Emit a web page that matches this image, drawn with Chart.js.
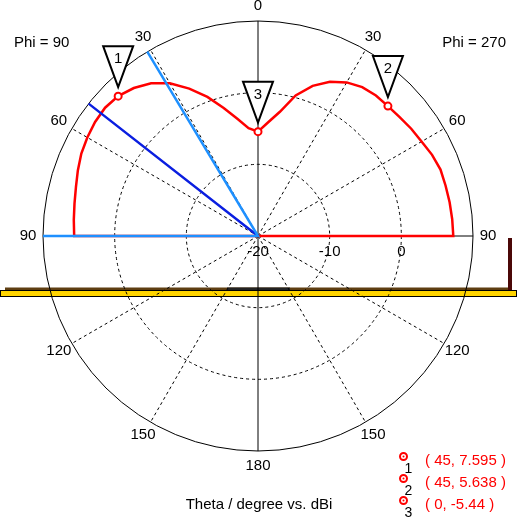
<!DOCTYPE html>
<html><head><meta charset="utf-8">
<script src="https://cdn.jsdelivr.net/npm/chart.js@4/dist/chart.umd.min.js"></script>
<style>html,body{margin:0;padding:0;background:#fff;}canvas{display:block;}</style>
</head><body>
<canvas id="c" width="518" height="518"></canvas>
<script>
// ---- data ----
const thetaDeg   = [0, 5, 10, 15, 20, 25, 30, 35, 40, 45, 50, 55, 60, 65, 70, 75, 80, 85, 90];
const gainPhi90  = [-5.44, -4.9, -3.4, -1.5, 0.65, 2.7, 4.6, 6.0, 6.95, 7.595, 7.85, 7.75, 7.5, 7.2, 6.75, 6.3, 6.0, 5.8, 5.65];
const gainPhi270 = [-5.44, -4.1, -2.4, 0.3, 2.3, 3.75, 4.75, 5.35, 5.6, 5.638, 5.8, 6.1, 6.35, 6.8, 7.1, 7.1, 7.15, 7.2, 7.25];
const markerNames = ['1', '2', '3'];
const markerPhi   = [90, 270, 90];
const markerTheta = [45, 45, 0];
const markerGain  = [7.595, 5.638, -5.44];
const angleTickLabels = ['0','30','60','90','120','150','180','150','120','90','60','30'];
const radialTicks = [-20, -10, 0, 10];
const radialTickLabels = ['-20', '-10', '0'];
const lightBlueTheta = [31, 90];   // Phi = 90 side
const darkBlueTheta  = [52];       // Phi = 90 side
const phiLabels = ['Phi = 90', 'Phi = 270'];
const axisTitle = 'Theta / degree vs. dBi';

// ---- build ----
const N = 360;
const rMin = radialTicks[0], rMax = radialTicks[radialTicks.length - 1];
const posIndex = (phi, theta) => phi === 270 ? theta : (360 - theta) % 360;
const labels = Array.from({length: N}, (_, i) => String(i));
const empty = () => new Array(N).fill(null);

const redData = empty();
thetaDeg.forEach((t, i) => {
  redData[posIndex(270, t)] = gainPhi270[i];
  redData[posIndex(90, t)] = gainPhi90[i];
});
redData[posIndex(270, 90) + 1] = rMin;
redData[posIndex(90, 90) - 1] = rMin;

const lightData = empty();
lightBlueTheta.forEach(t => { const p = posIndex(90, t); lightData[p] = rMax; lightData[(p + 1) % N] = rMin; });
const darkData = empty();
darkBlueTheta.forEach(t => { const p = posIndex(90, t); darkData[p] = rMax; darkData[(p + 1) % N] = rMin; });
const markerData = empty();
markerGain.forEach((g, i) => { markerData[posIndex(markerPhi[i], markerTheta[i])] = g; });

const FONT = '15px "Liberation Sans", Arial, sans-serif';

const decor = {
  id: 'decor',
  beforeDraw(chart) {
    const ctx = chart.ctx;
    ctx.save();
    // ground plane
    ctx.fillStyle = '#5e3e12';
    ctx.fillRect(5, 287.5, 503, 3);
    ctx.fillStyle = '#222';
    ctx.fillRect(227, 287.5, 63, 3);
    ctx.fillStyle = '#ffd400';
    ctx.fillRect(0.5, 290.5, 516, 6);
    ctx.strokeStyle = '#000';
    ctx.lineWidth = 1;
    ctx.strokeRect(0.5, 290.5, 516, 6);
    ctx.fillStyle = '#4b0808';
    ctx.fillRect(508, 238, 4, 52);
    ctx.restore();
  },
  afterDatasetsDraw(chart) {
    const ctx = chart.ctx;
    const s = chart.scales.r;
    ctx.save();
    ctx.font = FONT;
    ctx.fillStyle = '#000';
    ctx.textAlign = 'center';
    ctx.textBaseline = 'middle';
    // angle labels
    angleTickLabels.forEach((t, k) => {
      const p = s.getPointPosition(k * 30, s.drawingArea + 15);
      ctx.fillText(t, p.x, p.y);
    });
    // radial tick labels
    radialTickLabels.forEach((t, k) => {
      const d = s.getDistanceFromCenterForValue(radialTicks[k]);
      ctx.fillText(t, s.xCenter + d, s.yCenter + 16);
    });
    // phi labels
    ctx.textAlign = 'left';
    ctx.fillText(phiLabels[0], 14, 43);
    ctx.textAlign = 'right';
    ctx.fillText(phiLabels[1], 506, 43);
    // title
    ctx.textAlign = 'center';
    ctx.fillText(axisTitle, 259, 505);
    // marker triangles
    const meta = chart.getDatasetMeta(0);
    markerGain.forEach((g, i) => {
      const el = meta.data[posIndex(markerPhi[i], markerTheta[i])];
      const x = el.x, y = el.y;
      ctx.beginPath();
      ctx.moveTo(x - 15, y - 50);
      ctx.lineTo(x + 15, y - 50);
      ctx.lineTo(x, y - 9);
      ctx.closePath();
      ctx.fillStyle = '#fff';
      ctx.fill();
      ctx.strokeStyle = '#000';
      ctx.lineWidth = 2;
      ctx.stroke();
      ctx.fillStyle = '#000';
      ctx.fillText(markerNames[i], x, y - 37);
    });
    // legend
    markerGain.forEach((g, i) => {
      const ly = 458 + i * 22;
      ctx.beginPath();
      ctx.arc(403.5, ly - 1.5, 3.5, 0, Math.PI * 2);
      ctx.strokeStyle = '#ff0000';
      ctx.lineWidth = 2;
      ctx.stroke();
      ctx.beginPath();
      ctx.arc(403.5, ly - 1.5, 1, 0, Math.PI * 2);
      ctx.fillStyle = '#ff0000';
      ctx.fill();
      ctx.font = '14px "Liberation Sans", Arial, sans-serif';
      ctx.fillStyle = '#000';
      ctx.textAlign = 'center';
      ctx.fillText(markerNames[i], 408.5, ly + 11);
      ctx.font = FONT;
      ctx.fillStyle = '#ff0000';
      ctx.textAlign = 'left';
      ctx.fillText('( ' + markerTheta[i] + ', ' + g + ' )', 425, ly + 2.5);
    });
    ctx.restore();
  }
};

new Chart(document.getElementById('c'), {
  type: 'radar',
  data: {
    labels: labels,
    datasets: [
      { data: markerData, showLine: false, pointRadius: 3.5, pointBorderWidth: 2,
        pointBorderColor: '#ff0000', pointBackgroundColor: '#ffffff', order: 0 },
      { data: markerData, showLine: false, pointRadius: 1, pointBorderWidth: 0,
        pointBackgroundColor: '#ff0000', order: 0 },
      { data: lightData, borderColor: '#1e90ff', borderWidth: 2.5, pointRadius: 0, spanGaps: true, fill: false, order: 1 },
      { data: darkData, borderColor: '#0a1ee0', borderWidth: 2.5, pointRadius: 0, spanGaps: true, fill: false, order: 1 },
      { data: redData, borderColor: '#ff0000', borderWidth: 2.5, pointRadius: 0, spanGaps: true, fill: false, tension: 0, order: 2 }
    ]
  },
  options: {
    responsive: false,
    animation: false,
    events: [],
    layout: { padding: { left: 43, top: 21, right: 45, bottom: 67 } },
    plugins: { legend: { display: false }, tooltip: { enabled: false } },
    scales: {
      r: {
        min: rMin, max: rMax,
        ticks: { display: false, stepSize: 10 },
        pointLabels: { display: false },
        grid: { circular: true, color: '#000', lineWidth: 1 },
        border: { dash: ctx => (ctx.tick && ctx.tick.value === rMax) ? [] : [3, 3] },
        angleLines: {
          color: ctx => ctx.index % 30 === 0 ? '#000' : 'rgba(0,0,0,0)',
          lineWidth: ctx => ctx.index % 30 === 0 ? 1 : 0,
          borderDash: ctx => ctx.index % 90 === 0 ? [] : [3, 3]
        }
      }
    }
  },
  plugins: [decor]
});
</script>
</body></html>
